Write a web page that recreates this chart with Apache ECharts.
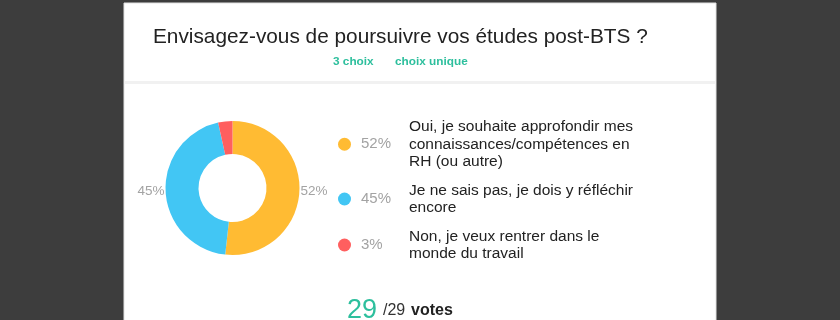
<!DOCTYPE html>
<html>
<head>
<meta charset="utf-8">
<script src="https://cdn.jsdelivr.net/npm/echarts@6/dist/echarts.min.js"></script>
<style>
html,body{margin:0;padding:0;background:#3d3d3d;}
#chart{width:840px;height:320px;}
</style>
</head>
<body>
<div id="chart"></div>
<script>
var questionTitle = 'Envisagez-vous de poursuivre vos études post-BTS ?';
var choiceCountLabel = '3 choix';
var choiceTypeLabel = 'choix unique';
var categories = [
  'Oui, je souhaite approfondir mes\nconnaissances/compétences en\nRH (ou autre)',
  'Je ne sais pas, je dois y réfléchir\nencore',
  'Non, je veux rentrer dans le\nmonde du travail'
];
var votes = [15, 13, 1];
var totalVotes = 29;
var respondents = 29;
var colors = ['#ffbb33', '#42c6f4', '#ff5f5f'];

var FONT = '"Liberation Sans", Arial, sans-serif';
var TEAL = '#2dbf9d';
var sum = votes.reduce(function (a, b) { return a + b; }, 0);
function pct(i) { return Math.round(votes[i] / sum * 100); }

var chart = echarts.init(document.getElementById('chart'), null, {renderer: 'canvas'});

var richA = {};
categories.forEach(function (c, i) {
  var lines = c.split('\n').length;
  richA['p' + i] = {
    fontFamily: FONT, fontSize: 15, color: '#a3a3a3',
    height: lines * 17.5, lineHeight: lines * 17.5, padding: [0, 0, 0, 5]
  };
});

var option = {
  backgroundColor: '#3d3d3d',
  animation: false,
  graphic: [
    {type: 'rect', z: -10, shape: {x: 124, y: 3, width: 592, height: 330},
     style: {fill: '#ffffff', stroke: '#e2e2e2', lineWidth: 1}},
    {type: 'rect', z: -9, shape: {x: 125, y: 81, width: 590, height: 3},
     style: {fill: '#f1f1f1'}}
  ],
  title: [
    {text: questionTitle, left: 153, top: 27, padding: 0,
     textStyle: {fontFamily: FONT, fontSize: 20.8, fontWeight: 'normal', color: '#222'}},
    {text: choiceCountLabel, left: 333, top: 56, padding: 0,
     textStyle: {fontFamily: FONT, fontSize: 11.8, fontWeight: 'bold', color: TEAL}},
    {text: choiceTypeLabel, left: 395, top: 56, padding: 0,
     textStyle: {fontFamily: FONT, fontSize: 11.8, fontWeight: 'bold', color: TEAL}},
    {text: String(totalVotes), left: 347, top: 297, padding: 0,
     textStyle: {fontFamily: FONT, fontSize: 27, fontWeight: 'normal', color: TEAL}},
    {text: '/' + respondents, left: 383, top: 303, padding: 0,
     textStyle: {fontFamily: FONT, fontSize: 16, fontWeight: 'normal', color: '#333'}},
    {text: 'votes', left: 411, top: 303, padding: 0,
     textStyle: {fontFamily: FONT, fontSize: 16, fontWeight: 'bold', color: '#222'}}
  ],
  legend: [
    {
      orient: 'vertical', left: 338, top: 118, padding: 0,
      icon: 'circle', itemWidth: 13, itemHeight: 13, itemGap: 11,
      selectedMode: false,
      data: categories,
      formatter: function (name) {
        var i = categories.indexOf(name);
        return '{p' + i + '|' + pct(i) + '%}';
      },
      textStyle: {rich: richA}
    },
    {
      orient: 'vertical', left: 404, top: 118, padding: 0,
      icon: 'rect', itemWidth: 0, itemHeight: 0, itemGap: 11,
      selectedMode: false,
      data: categories,
      itemStyle: {opacity: 0},
      textStyle: {fontFamily: FONT, fontSize: 15.5, lineHeight: 17.5, color: '#222'}
    }
  ],
  series: [{
    type: 'pie',
    center: [232.5, 188],
    radius: [34, 67],
    startAngle: 90,
    clockwise: true,
    avoidLabelOverlap: false,
    percentPrecision: 0,
    color: colors,
    itemStyle: {borderWidth: 0},
    emphasis: {disabled: true},
    label: {
      show: true, position: 'outside', formatter: '{d}%',
      fontFamily: FONT, fontSize: 13.5, color: '#a3a3a3',
      distanceToLabelLine: 1, padding: [4, 0, 0, 0]
    },
    labelLine: {show: false, length: 0, length2: 0},
    data: categories.map(function (c, i) {
      var d = {name: c, value: votes[i]};
      if (votes[i] / sum < 0.05) d.label = {show: false};
      return d;
    })
  }]
};
chart.setOption(option);
</script>
</body>
</html>
